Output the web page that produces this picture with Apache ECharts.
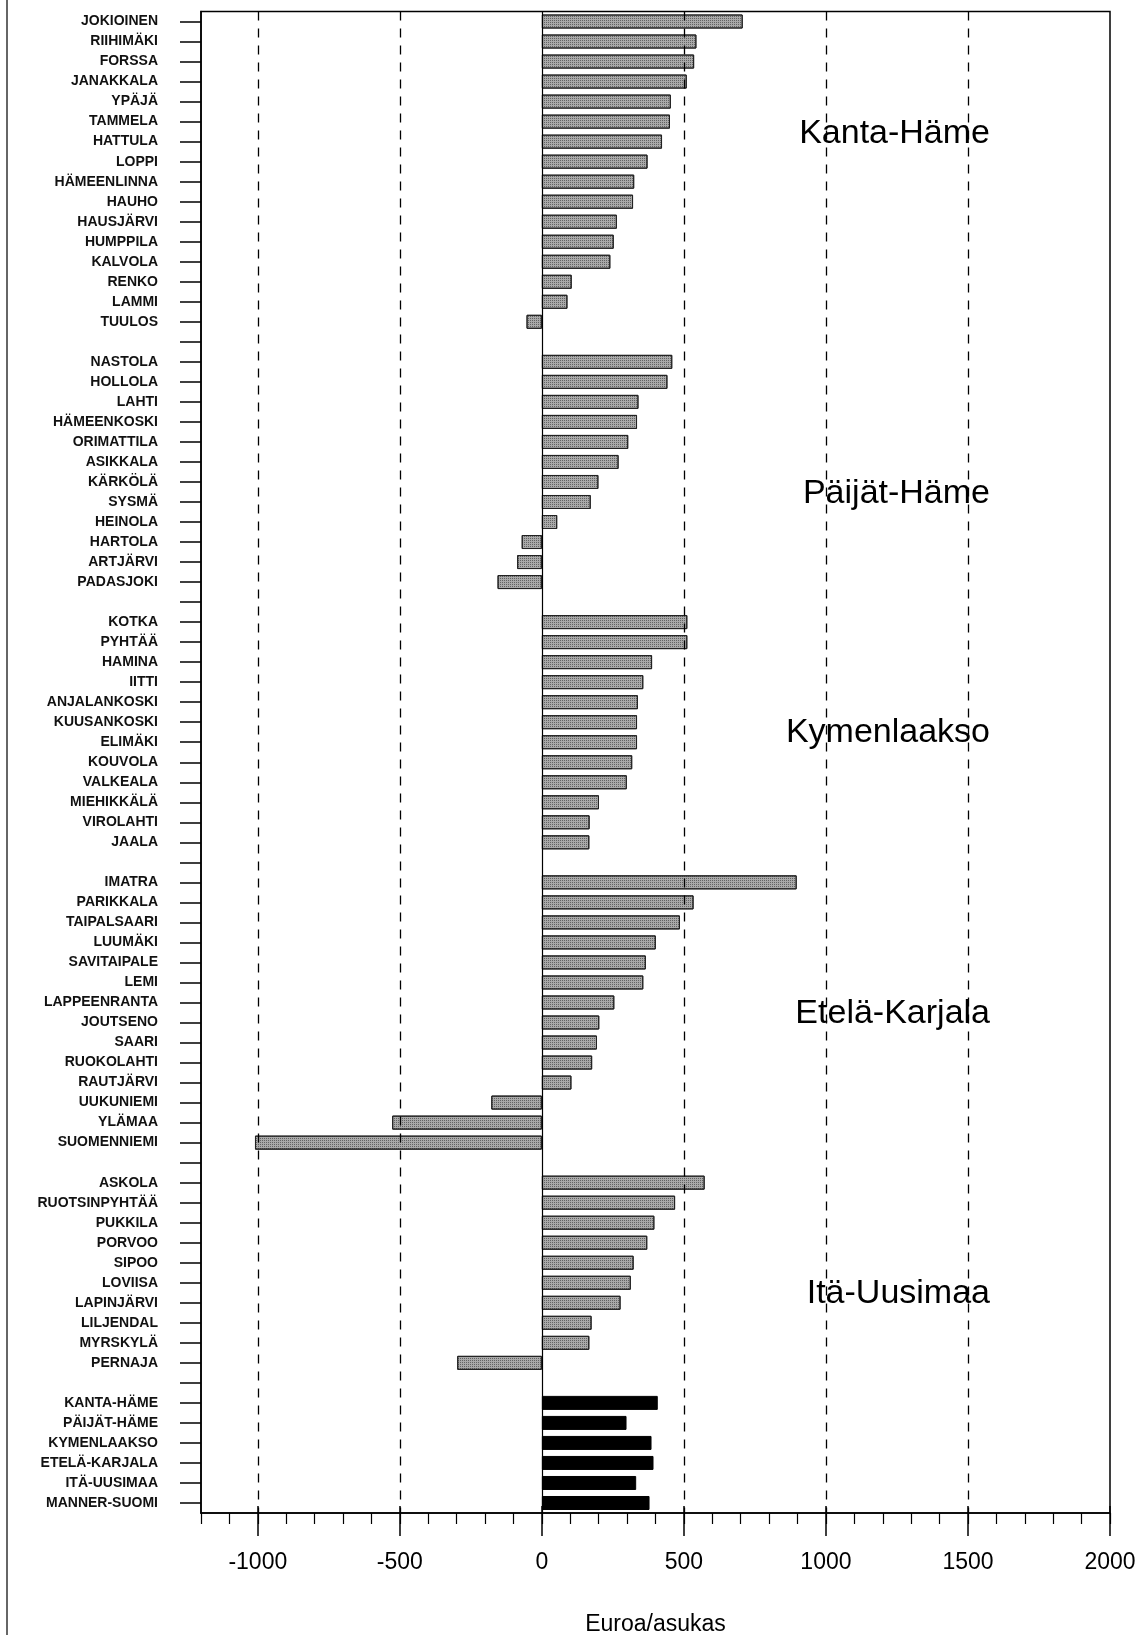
<!DOCTYPE html>
<html>
<head>
<meta charset="utf-8">
<script src="https://cdn.jsdelivr.net/npm/echarts@6/dist/echarts.min.js"></script>
<style>
html,body{margin:0;padding:0;background:#fff;}
#chart{width:1140px;height:1635px;}
</style>
</head>
<body>
<div id="chart"></div>
<script>
const kantaHameNames = ['JOKIOINEN','RIIHIMÄKI','FORSSA','JANAKKALA','YPÄJÄ','TAMMELA','HATTULA','LOPPI','HÄMEENLINNA','HAUHO','HAUSJÄRVI','HUMPPILA','KALVOLA','RENKO','LAMMI','TUULOS'];
const kantaHameValues = [707,544,536,510,454,451,423,372,325,321,264,253,241,105,90,-54];

const paijatHameNames = ['NASTOLA','HOLLOLA','LAHTI','HÄMEENKOSKI','ORIMATTILA','ASIKKALA','KÄRKÖLÄ','SYSMÄ','HEINOLA','HARTOLA','ARTJÄRVI','PADASJOKI'];
const paijatHameValues = [459,442,340,335,304,270,199,172,54,-71,-87,-156];

const kymenlaaksoNames = ['KOTKA','PYHTÄÄ','HAMINA','IITTI','ANJALANKOSKI','KUUSANKOSKI','ELIMÄKI','KOUVOLA','VALKEALA','MIEHIKKÄLÄ','VIROLAHTI','JAALA'];
const kymenlaaksoValues = [512,512,388,357,338,335,335,318,299,201,168,167];

const etelaKarjalaNames = ['IMATRA','PARIKKALA','TAIPALSAARI','LUUMÄKI','SAVITAIPALE','LEMI','LAPPEENRANTA','JOUTSENO','SAARI','RUOKOLAHTI','RAUTJÄRVI','UUKUNIEMI','YLÄMAA','SUOMENNIEMI'];
const etelaKarjalaValues = [897,534,486,401,366,357,255,202,194,177,104,-178,-527,-1010];

const itaUusimaaNames = ['ASKOLA','RUOTSINPYHTÄÄ','PUKKILA','PORVOO','SIPOO','LOVIISA','LAPINJÄRVI','LILJENDAL','MYRSKYLÄ','PERNAJA'];
const itaUusimaaValues = [573,469,396,371,323,313,277,175,167,-298];

const summaryNames = ['KANTA-HÄME','PÄIJÄT-HÄME','KYMENLAAKSO','ETELÄ-KARJALA','ITÄ-UUSIMAA','MANNER-SUOMI'];
const summaryValues = [408,298,386,393,332,379];

const regionTitles = ['Kanta-Häme','Päijät-Häme','Kymenlaakso','Etelä-Karjala','Itä-Uusimaa'];

const xMajorTicks = [-1000,-500,0,500,1000,1500,2000];
const dashedLineValues = [-1000,-500,500,1000,1500];
const xAxisName = 'Euroa/asukas';

// build categories with blank separator rows
const groups = [
  [kantaHameNames, kantaHameValues],
  [paijatHameNames, paijatHameValues],
  [kymenlaaksoNames, kymenlaaksoValues],
  [etelaKarjalaNames, etelaKarjalaValues],
  [itaUusimaaNames, itaUusimaaValues]
];
const categories = [];
const municipalData = [];
const summaryData = [];
groups.forEach(([names, vals]) => {
  names.forEach((n, i) => { categories.push(n); municipalData.push(vals[i]); summaryData.push('-'); });
  categories.push('');
  municipalData.push('-');
  summaryData.push('-');
});
summaryNames.forEach((n, i) => {
  categories.push(n);
  municipalData.push('-');
  summaryData.push(summaryValues[i]);
});

const FONT = '"Liberation Sans", Arial, sans-serif';

const chart = echarts.init(document.getElementById('chart'), null, { renderer: 'canvas' });

const regionLabelY = [134, 494, 733, 1014, 1294];

chart.setOption({
  animation: false,
  backgroundColor: '#fff',
  grid: {
    left: 201, right: 30, top: 11.5, bottom: 122,
    outerBoundsMode: 'none', containLabel: false,
    show: true, borderColor: '#000', borderWidth: 1.5, backgroundColor: 'transparent'
  },
  xAxis: [
    {
      type: 'value', min: -1200, max: 2000, interval: 100, position: 'bottom',
      axisLine: { show: true, lineStyle: { color: '#000', width: 1.5 } },
      axisTick: { show: true, customValues: xMajorTicks, length: 23, lineStyle: { color: '#000', width: 1.5 } },
      axisLabel: { show: true, customValues: xMajorTicks, formatter: v => String(v), fontSize: 23, color: '#000', margin: 38, fontFamily: FONT },
      splitLine: { show: false },
      name: xAxisName, nameLocation: 'middle', nameGap: 100,
      nameTextStyle: { fontSize: 23, color: '#000', fontFamily: FONT }
    },
    {
      type: 'value', min: -1200, max: 2000, interval: 100, position: 'bottom', offset: 0,
      axisLine: { show: false },
      axisTick: { show: true, length: 11, lineStyle: { color: '#000', width: 1.2 } },
      axisLabel: { show: false },
      splitLine: { show: false }
    },
    {
      type: 'value', min: -1200, max: 2000, interval: 100, position: 'bottom', offset: 0,
      axisLine: { show: false },
      axisTick: { show: true, inside: true, customValues: xMajorTicks, length: 7, lineStyle: { color: '#000', width: 1.5 } },
      axisLabel: { show: false },
      splitLine: { show: false }
    }
  ],
  yAxis: {
    type: 'category', inverse: true, data: categories,
    axisLine: { show: true, onZero: false, lineStyle: { color: '#000', width: 1.5 } },
    axisTick: { show: true, alignWithLabel: true, interval: 0, length: 21, lineStyle: { color: '#000', width: 1.5 } },
    axisLabel: { interval: 0, fontSize: 14, fontWeight: 'bold', color: '#111', margin: 43, fontFamily: FONT },
    splitLine: { show: false }
  },
  series: [
    {
      type: 'bar',
      name: 'kunnat',
      xAxisIndex: 0,
      data: municipalData,
      barWidth: 14,
      barGap: '-100%',
      itemStyle: {
        color: '#a9a9a9', borderColor: '#222', borderWidth: 1,
        decal: { symbol: 'rect', symbolSize: 1, color: 'rgba(30,30,30,0.5)', dashArrayX: [1, 1], dashArrayY: [1, 1], rotation: 0 }
      },
      markLine: {
        silent: true, symbol: 'none', label: { show: false },
        lineStyle: { color: '#000', width: 1.3, type: [9, 8] },
        data: dashedLineValues.map(v => ({ xAxis: v })).concat([
          { xAxis: 0, lineStyle: { type: 'solid', width: 1.2, color: '#000' } }
        ])
      }
    },
    {
      type: 'bar',
      name: 'maakunnat',
      xAxisIndex: 0,
      data: summaryData,
      barWidth: 14,
      barGap: '-100%',
      itemStyle: { color: '#000', borderColor: '#000', borderWidth: 1 }
    }
  ],
  graphic: [
    { type: 'line', shape: { x1: 7, y1: 0, x2: 7, y2: 1635 }, style: { stroke: '#333', lineWidth: 1.5 } }
  ].concat(regionTitles.map((t, i) => ({
    type: 'text', x: 990, y: regionLabelY[i],
    style: { text: t, font: '34px ' + FONT, fill: '#000', textAlign: 'right', textVerticalAlign: 'middle' }
  })))
});
</script>
</body>
</html>
